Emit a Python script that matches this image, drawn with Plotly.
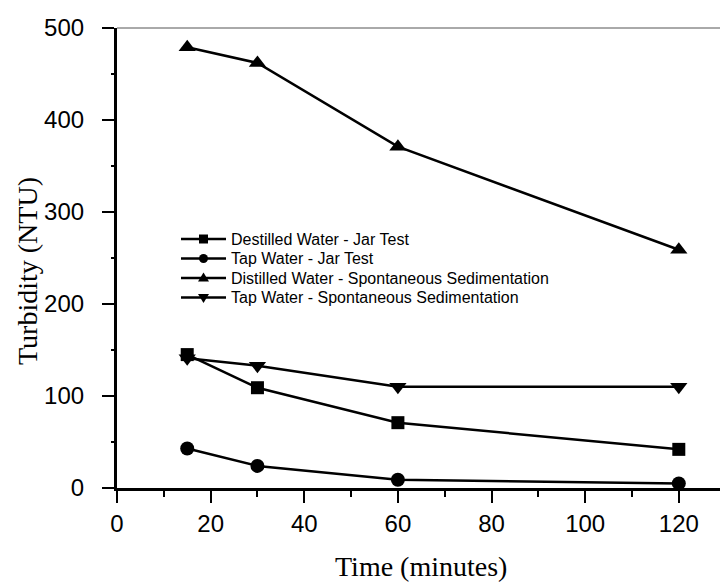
import plotly.graph_objects as go

# Sampling times (minutes)
time_min = [15, 30, 60, 120]

# Turbidity readings (NTU)
distilled_jar = [145, 109, 71, 42]
tap_jar = [43, 24, 9, 5]
distilled_spont = [479, 462, 371, 259]
tap_spont = [141, 133, 110, 110]

series_names = [
    "Destilled Water - Jar Test",
    "Tap Water - Jar Test",
    "Distilled Water - Spontaneous Sedimentation",
    "Tap Water - Spontaneous Sedimentation",
]
series_values = [distilled_jar, tap_jar, distilled_spont, tap_spont]
series_symbols = ["square", "circle", "triangle-up", "triangle-down"]
series_sizes = [13, 14, 15, 15]

# minor tick positions on the turbidity axis
y_minor_ticks = [50, 150, 250, 350, 450]

x_title = "Time (minutes)"
y_title = "Turbidity (NTU)"

W, H = 720, 582
ML, MR, MT, MB = 117, 0, 28, 94
X_MAX = 128.8
PW, PH = W - ML - MR, H - MT - MB


def px_to_paper(px, py):
    return (px - ML) / PW, ((H - MB) - py) / PH


fig = go.Figure()

for name, vals, sym, sz in zip(series_names, series_values, series_symbols, series_sizes):
    fig.add_trace(go.Scatter(
        x=time_min, y=vals, mode="lines+markers", name=name,
        line=dict(color="black", width=2.5),
        marker=dict(symbol=sym, size=sz, color="black"),
        cliponaxis=False, showlegend=False,
    ))

# Key: sample line + small symbol + label for each series
KEY_X0, KEY_X1, KEY_TEXT_X = 181, 226, 229
KEY_Y0, KEY_DY = 239, 19.5
key_paths = {
    "square": "M-4.5,-4.5 H4.5 V4.5 H-4.5 Z",
    "triangle-up": "M-5.5,-3.5 L5.5,-3.5 L0,5.5 Z",
    "triangle-down": "M-5.5,3.5 L5.5,3.5 L0,-5.5 Z",
}
shapes = [dict(type="line", xref="paper", yref="paper", x0=0, x1=1, y0=1, y1=1,
               line=dict(color="#555", width=1))]
# short minor ticks on the left axis, 6 px long, outside the plot
for v in y_minor_ticks:
    shapes.append(dict(type="line", xref="paper", yref="y", x0=-6 / PW, x1=0, y0=v, y1=v,
                       line=dict(color="black", width=2)))
annotations = []
for i, (name, sym) in enumerate(zip(series_names, series_symbols)):
    ry = KEY_Y0 + i * KEY_DY
    xa, ya = px_to_paper(KEY_X0, ry)
    xb, _ = px_to_paper(KEY_X1, ry)
    xm, _ = px_to_paper((KEY_X0 + KEY_X1) / 2, ry)
    xt, _ = px_to_paper(KEY_TEXT_X, ry)
    shapes.append(dict(type="line", xref="paper", yref="paper", x0=xa, x1=xb, y0=ya, y1=ya,
                       line=dict(color="black", width=2.5)))
    if sym == "circle":
        shapes.append(dict(type="circle", xref="paper", yref="paper",
                           xsizemode="pixel", ysizemode="pixel", xanchor=xm, yanchor=ya,
                           x0=-4.5, x1=4.5, y0=-4.5, y1=4.5,
                           fillcolor="black", line=dict(width=0)))
    else:
        shapes.append(dict(type="path", xref="paper", yref="paper",
                           xsizemode="pixel", ysizemode="pixel", xanchor=xm, yanchor=ya,
                           path=key_paths[sym], fillcolor="black", line=dict(width=0)))
    annotations.append(dict(
        text=name, xref="paper", yref="paper", x=xt, y=ya,
        xanchor="left", yanchor="middle", showarrow=False,
        font=dict(family="Liberation Sans, Arial", size=16, color="black"),
    ))

axis_font = dict(family="Liberation Sans, Arial", size=24, color="black")

annotations += [
    dict(text=x_title, xref="paper", yref="paper",
         x=(421 - ML) / PW, y=-(566 - (H - MB)) / PH,
         xanchor="center", yanchor="middle", showarrow=False,
         font=dict(family="Liberation Serif, Times New Roman", size=28, color="black")),
    dict(text=y_title, xref="paper", yref="paper",
         x=(27 - ML) / PW, y=((H - MB) - 271) / PH,
         xanchor="center", yanchor="middle", textangle=-90, showarrow=False,
         font=dict(family="Liberation Serif, Times New Roman", size=28, color="black")),
]

fig.update_layout(
    width=W, height=H,
    margin=dict(l=ML, r=MR, t=MT, b=MB, autoexpand=False),
    paper_bgcolor="white", plot_bgcolor="white",
    showlegend=False,
    xaxis=dict(
        range=[0, X_MAX], tick0=0, dtick=20,
        showline=True, linewidth=2.5, linecolor="black",
        ticks="outside", ticklen=12, tickwidth=2, tickcolor="black",
        minor=dict(ticks="outside", ticklen=6, tickwidth=2, tickcolor="black",
                   dtick=10, tick0=0, showgrid=False),
        showgrid=False, zeroline=False, tickfont=axis_font, tickangle=0,
    ),
    yaxis=dict(
        range=[0, 500], tick0=0, dtick=100,
        showline=True, linewidth=2.5, linecolor="black",
        ticks="outside", ticklen=12, tickwidth=2, tickcolor="black",
        showgrid=False, zeroline=False, tickfont=axis_font, ticksuffix="  ",
    ),
    shapes=shapes,
    annotations=annotations,
)

fig.write_html("out.html")
